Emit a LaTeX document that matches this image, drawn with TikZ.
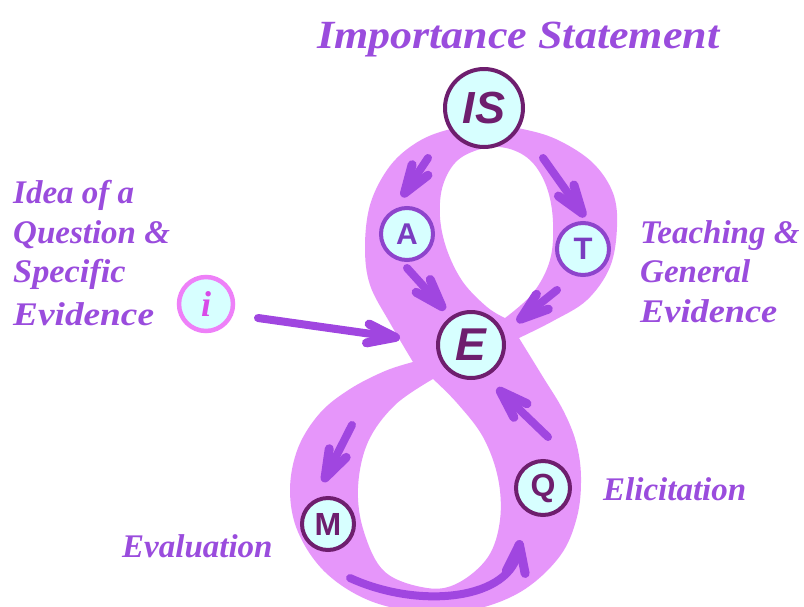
\documentclass[tikz,border=0pt]{standalone}
\usepackage{fontspec}
\setmainfont{Liberation Serif}
\newfontfamily\nodefont{Liberation Sans}
\usetikzlibrary{arrows.meta}
\definecolor{bandc}{HTML}{E696FA}
\definecolor{flowc}{HTML}{A046E0}
\definecolor{cellfill}{HTML}{D7FFFF}
\definecolor{rimdark}{HTML}{6E1E6E}
\definecolor{rimviolet}{HTML}{8E44CC}
\definecolor{letterviolet}{HTML}{7A3CC0}
\definecolor{rimpink}{HTML}{EE80F8}
\definecolor{letterpink}{HTML}{D84AE8}
\definecolor{labelc}{HTML}{9A4CDD}

\begin{document}
\begin{tikzpicture}[x=1pt,y=-1pt,
  stage/.style={circle, draw=rimdark, fill=cellfill, line width=4pt, inner sep=0pt, text=rimdark},
  stagesoft/.style={stage, draw=rimviolet, text=letterviolet},
  flow/.style={draw=flowc, line width=8pt, line cap=round,
    -{Straight Barb[length=28pt,width=19pt,line width=9pt,round]}},
  caption/.style={anchor=base west, inner sep=0pt, text=labelc,
    font=\bfseries\itshape\fontsize{33}{40}\selectfont},
]
\clip (0,0) rectangle (804,606);

% the figure-eight ribbon: outer outline and the two loop openings
\fill[bandc, even odd rule]
  plot[smooth, tension=0.6] coordinates {(413,362) (390,323) (370,285) (365,247) (370,205) (387,170) (410,147) (440,132) (484,124) (527,130) (560,141) (593,163) (613,193) (617,227) (610,267) (587,300) (553,321) (519,338)}
  -- plot[smooth, tension=0.6] coordinates {(519,338) (543,377) (563,410) (576,442) (581,477) (577,517) (560,556) (522,591) (472,610) (420,612) (368,600) (325,572) (298,532) (290,490) (298,448) (320,413) (350,389) (385,371) (413,362)}
  -- cycle
  plot[smooth, tension=0.6] coordinates {(505,318) (487,307) (463,282) (447,250) (440,217) (443,185) (458,160) (485,148) (510,149) (532,162) (547,188) (553,222) (550,260) (533,293) (505,318)} -- cycle
  plot[smooth, tension=0.6] coordinates {(433,379) (457,403) (483,437) (498,478) (500,520) (488,557) (458,583) (427,588) (385,572) (364,532) (358,488) (368,442) (395,405) (433,379)} -- cycle;

% stages
\node[stage, minimum size=78pt, font=\nodefont\bfseries\itshape\fontsize{45}{45}\selectfont] (IS) at (484,108) {IS};
\node[stagesoft, minimum size=52pt, font=\nodefont\bfseries\fontsize{30}{30}\selectfont] (A) at (407,234) {A};
\node[stagesoft, minimum size=52pt, font=\nodefont\bfseries\fontsize{31}{31}\selectfont] (T) at (583,249) {T};
\node[stage, minimum size=66pt, font=\nodefont\bfseries\itshape\fontsize{46}{46}\selectfont] (E) at (471,345) {E};
\node[stage, minimum size=52pt, font=\nodefont\bfseries\fontsize{32}{32}\selectfont] (M) at (328,524) {M};
\node[stage, minimum size=54pt, font=\nodefont\bfseries\fontsize{32}{32}\selectfont] (Q) at (543,488) {Q};
\node[stage, draw=rimpink, line width=4.5pt, text=letterpink, minimum size=54pt, font=\bfseries\itshape\fontsize{36}{36}\selectfont] (i) at (206,304) {i};

% flow arrows along the ribbon
\coordinate (isa0) at (428,158); \coordinate (isa1) at (402,197);
\coordinate (ist0) at (543,158); \coordinate (ist1) at (585,217);
\coordinate (ae0) at (407,268);  \coordinate (ae1) at (445,310);
\coordinate (te0) at (557,290);  \coordinate (te1) at (517,322);
\coordinate (ie0) at (258,318);  \coordinate (ie1) at (400,338);
\coordinate (qe0) at (548,437);  \coordinate (qe1) at (497,388);
\coordinate (em0) at (352,425);  \coordinate (em1) at (323,482);
\coordinate (mq0) at (350,578);  \coordinate (mq1) at (520,540);
\draw[flow] (isa0) -- (isa1);
\draw[flow] (ist0) -- (ist1);
\draw[flow] (ae0) -- (ae1);
\draw[flow] (te0) -- (te1);
\draw[flow] (ie0) -- (ie1);
\draw[flow] (qe0) -- (qe1);
\draw[flow] (em0) -- (em1);
\draw[flow] (mq0) .. controls (420,610) and (512,600) .. (mq1);

% captions
\node[caption, font=\bfseries\itshape\fontsize{40}{40}\selectfont, xscale=1.1] (title) at (317,48) {Importance Statement};
\node[caption] (l1) at (13,203) {Idea of a};
\node[caption] (l2) at (13,243) {Question \&};
\node[caption, xscale=1.04] (l3) at (13,282) {Specific};
\node[caption, xscale=1.13] (l4) at (13,325) {Evidence};
\node[caption] (r1) at (640,243) {Teaching \&};
\node[caption] (r2) at (640,282) {General};
\node[caption, xscale=1.1] (r3) at (640,322) {Evidence};
\node[caption] (elic) at (603,500) {Elicitation};
\node[caption] (eval) at (122,557) {Evaluation};
\end{tikzpicture}
\end{document}
